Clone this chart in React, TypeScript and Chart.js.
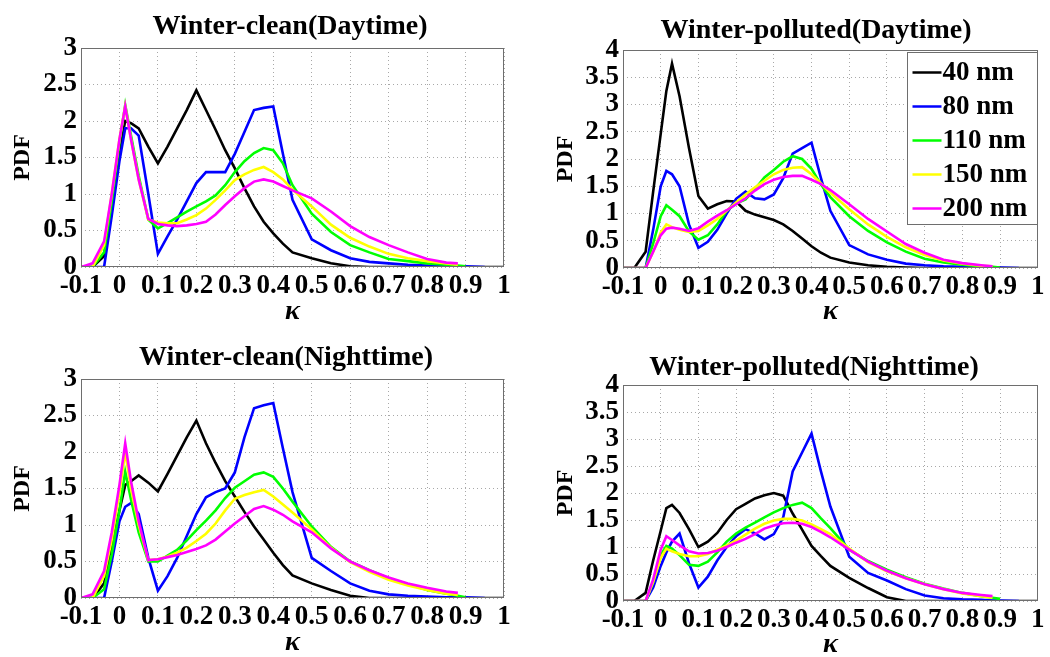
import React, { useEffect, useRef } from "react";
import { Chart, registerables } from "chart.js";

Chart.register(...registerables);

// ---------- data ----------
const KAPPA = [
  -0.1, -0.07, -0.04, -0.02, 0, 0.015,
  0.03, 0.05, 0.075, 0.1, 0.125, 0.15,
  0.175, 0.2, 0.225, 0.25, 0.275, 0.3,
  0.325, 0.35, 0.375, 0.4, 0.425, 0.45,
  0.5, 0.55, 0.6, 0.65, 0.7, 0.75,
  0.8, 0.85, 0.88, 0.9, 0.95, 1.0,
];

const X_TICKS = [-0.1, 0, 0.1, 0.2, 0.3, 0.4, 0.5, 0.6, 0.7, 0.8, 0.9, 1];
const Y_TICKS_CLEAN = [0, 0.5, 1, 1.5, 2, 2.5, 3];
const Y_TICKS_POLLUTED = [0, 0.5, 1, 1.5, 2, 2.5, 3, 3.5, 4];
const SIZES = ["40 nm", "80 nm", "110 nm", "150 nm", "200 nm"];
const COLORS = ["#000000", "#0000ff", "#00ff00", "#ffff00", "#ff00ff"];
const TITLES = [
  "Winter-clean(Daytime)",
  "Winter-polluted(Daytime)",
  "Winter-clean(Nighttime)",
  "Winter-polluted(Nighttime)",
];

// Winter-clean (Daytime)
const CLEAN_DAY_40 = [
  0, 0, 0.15, 0.9, 1.6, 2.0,
  1.97, 1.9, 1.65, 1.42, 1.65, 1.9,
  2.15, 2.42, 2.15, 1.88, 1.6, 1.35,
  1.08, 0.83, 0.62, 0.46, 0.32, 0.2,
  0.12, 0.05, 0.01, 0, 0, 0,
  0, 0, 0, 0, 0, 0,
];
const CLEAN_DAY_80 = [
  0, 0, 0, 0.7, 1.45, 1.9,
  1.9, 1.8, 1.0, 0.18, 0.42, 0.65,
  0.9, 1.15, 1.3, 1.3, 1.3, 1.55,
  1.85, 2.15, 2.18, 2.2, 1.55, 0.92,
  0.38, 0.23, 0.12, 0.07, 0.05, 0.03,
  0.02, 0.01, 0.01, 0.01, 0, null,
];
const CLEAN_DAY_110 = [
  0, 0, 0.2, 0.9, 1.7, 2.22,
  1.8, 1.25, 0.65, 0.53, 0.6, 0.68,
  0.76, 0.83, 0.9, 0.98, 1.12, 1.3,
  1.45, 1.56, 1.63, 1.6, 1.42, 1.12,
  0.73, 0.48, 0.3, 0.2, 0.11, 0.08,
  0.05, 0.03, 0.02, 0.01, null, null,
];
const CLEAN_DAY_150 = [
  0, 0, 0.3, 1.0, 1.75, 2.2,
  1.75, 1.2, 0.65, 0.61, 0.6, 0.6,
  0.65, 0.71, 0.8, 0.92, 1.05, 1.19,
  1.27, 1.33, 1.37, 1.3, 1.2, 1.06,
  0.83, 0.58, 0.4, 0.28, 0.18, 0.12,
  0.08, 0.05, 0.03, null, null, null,
];
const CLEAN_DAY_200 = [
  0, 0.05, 0.35, 1.0, 1.75, 2.2,
  1.75, 1.2, 0.66, 0.59, 0.57, 0.56,
  0.57, 0.59, 0.62, 0.72, 0.85, 0.97,
  1.08, 1.17, 1.2, 1.17, 1.11, 1.05,
  0.94, 0.76, 0.56, 0.41, 0.3, 0.2,
  0.11, 0.06, 0.05, null, null, null,
];

// Winter-polluted (Daytime)
const POLLUTED_DAY_40 = [
  0, 0, 0.3, 1.4, 2.46, 3.25,
  3.75, 3.15, 2.2, 1.32, 1.09, 1.17,
  1.23, 1.22, 1.05, 0.98, 0.93, 0.88,
  0.8, 0.68, 0.54, 0.4, 0.28, 0.19,
  0.1, 0.05, 0.02, 0.01, 0, 0,
  0, 0, 0, 0, 0, 0,
];
const POLLUTED_DAY_80 = [
  0, 0, 0, 0.7, 1.5, 1.78,
  1.72, 1.5, 0.8, 0.37, 0.48, 0.7,
  1.0, 1.27, 1.4, 1.28, 1.26, 1.35,
  1.65, 2.1, 2.2, 2.3, 1.65, 1.05,
  0.42, 0.25, 0.15, 0.08, 0.05, 0.03,
  0.02, 0.01, 0.01, 0.01, 0, null,
];
const POLLUTED_DAY_110 = [
  0, 0, 0, 0.45, 0.95, 1.15,
  1.07, 0.95, 0.67, 0.52, 0.6, 0.8,
  1.05, 1.18, 1.26, 1.45, 1.66, 1.8,
  1.95, 2.05, 2.0, 1.82, 1.53, 1.3,
  0.95, 0.68, 0.47, 0.3, 0.17, 0.1,
  0.06, 0.03, 0.02, 0.01, null, null,
];
const POLLUTED_DAY_150 = [
  0, 0, 0, 0.3, 0.65, 0.8,
  0.75, 0.7, 0.66, 0.68, 0.78, 0.9,
  1.05, 1.2, 1.35, 1.48, 1.6, 1.72,
  1.8, 1.84, 1.85, 1.72, 1.55, 1.38,
  1.08, 0.8, 0.57, 0.38, 0.24, 0.14,
  0.08, 0.04, 0.03, null, null, null,
];
const POLLUTED_DAY_200 = [
  0, 0, 0, 0.3, 0.6, 0.72,
  0.74, 0.72, 0.68, 0.73, 0.85, 0.96,
  1.06, 1.17, 1.28, 1.42, 1.54, 1.62,
  1.67, 1.69, 1.69, 1.62, 1.54, 1.43,
  1.17, 0.9, 0.67, 0.44, 0.28, 0.15,
  0.09, 0.05, 0.03, null, null, null,
];

// Winter-clean (Nighttime)
const CLEAN_NIGHT_40 = [
  0, 0, 0.2, 0.7, 1.2, 1.55,
  1.6, 1.68, 1.58, 1.46, 1.7, 1.95,
  2.2, 2.43, 2.12, 1.85, 1.6, 1.39,
  1.18, 0.98, 0.8, 0.62, 0.45, 0.31,
  0.2, 0.11, 0.03, 0, 0, 0,
  0, 0, 0, 0, 0, 0,
];
const CLEAN_NIGHT_80 = [
  0, 0, 0, 0.5, 1.05, 1.25,
  1.3, 1.15, 0.55, 0.1, 0.3, 0.55,
  0.85, 1.15, 1.38, 1.45, 1.5, 1.72,
  2.2, 2.6, 2.64, 2.67, 2.05, 1.45,
  0.55, 0.37, 0.2, 0.1, 0.05, 0.03,
  0.02, 0.01, 0.01, 0.01, 0, null,
];
const CLEAN_NIGHT_110 = [
  0, 0, 0.12, 0.6, 1.2, 1.73,
  1.35, 0.9, 0.5, 0.5, 0.58, 0.66,
  0.79, 0.93, 1.06, 1.2, 1.37, 1.51,
  1.6, 1.69, 1.72, 1.66, 1.5, 1.32,
  0.98, 0.7, 0.5, 0.38, 0.27, 0.19,
  0.11, 0.06, 0.03, 0.01, null, null,
];
const CLEAN_NIGHT_150 = [
  0, 0, 0.3, 0.8, 1.45, 2.0,
  1.5, 1.0, 0.52, 0.53, 0.57, 0.62,
  0.69, 0.78, 0.88, 1.02, 1.2, 1.36,
  1.41, 1.45, 1.48, 1.39, 1.28, 1.17,
  0.94, 0.69, 0.49, 0.36, 0.25, 0.17,
  0.11, 0.06, 0.04, null, null, null,
];
const CLEAN_NIGHT_200 = [
  0, 0.05, 0.37, 0.9, 1.55, 2.12,
  1.6, 1.05, 0.52, 0.53, 0.56, 0.59,
  0.63, 0.67, 0.72, 0.8, 0.91, 1.02,
  1.12, 1.22, 1.26, 1.21, 1.14, 1.05,
  0.9, 0.68, 0.5, 0.38, 0.28, 0.2,
  0.14, 0.09, 0.07, null, null, null,
];

// Winter-polluted (Nighttime)
const POLLUTED_NIGHT_40 = [
  0, 0, 0.15, 0.75, 1.3, 1.72,
  1.78, 1.63, 1.33, 1.0, 1.1, 1.26,
  1.5, 1.7, 1.8, 1.9, 1.96, 2.0,
  1.95, 1.62, 1.32, 1.02, 0.83, 0.65,
  0.43, 0.24, 0.07, 0, 0, 0,
  0, 0, 0, 0, 0, 0,
];
const POLLUTED_NIGHT_80 = [
  0, 0, 0, 0.25, 0.65, 0.9,
  1.1, 1.25, 0.7, 0.25, 0.45, 0.75,
  1.0, 1.2, 1.33, 1.25, 1.14, 1.24,
  1.55, 2.4, 2.75, 3.1, 2.4, 1.75,
  0.82, 0.52, 0.38, 0.22, 0.1, 0.05,
  0.03, 0.02, 0.01, 0.01, 0, null,
];
const POLLUTED_NIGHT_110 = [
  0, 0, 0, 0.35, 0.85, 1.02,
  0.97, 0.85, 0.67, 0.65, 0.73, 0.9,
  1.1, 1.25, 1.36, 1.45, 1.55, 1.64,
  1.72, 1.78, 1.82, 1.72, 1.53, 1.35,
  0.95, 0.74, 0.58, 0.44, 0.32, 0.23,
  0.15, 0.09, 0.06, 0.04, null, null,
];
const POLLUTED_NIGHT_150 = [
  0, 0, 0, 0.35, 0.8, 0.97,
  0.92, 0.87, 0.83, 0.83, 0.87, 0.95,
  1.03, 1.12, 1.23, 1.34, 1.43, 1.49,
  1.52, 1.52, 1.49, 1.42, 1.33, 1.24,
  0.97, 0.72, 0.55, 0.42, 0.31, 0.22,
  0.14, 0.09, 0.06, null, null, null,
];
const POLLUTED_NIGHT_200 = [
  0, 0, 0, 0.4, 0.95, 1.2,
  1.13, 1.03, 0.92, 0.88, 0.89, 0.93,
  1.0, 1.08, 1.15, 1.24, 1.34, 1.4,
  1.44, 1.45, 1.43, 1.37, 1.28, 1.18,
  0.95, 0.73, 0.56, 0.42, 0.31, 0.22,
  0.15, 0.11, 0.09, null, null, null,
];

// ---------- layout / style ----------
const FONT = '"Liberation Serif", "Times New Roman", serif';
const GRID_COLOR = "#a8a8a8";
const FRAME_COLOR = "#6e6e6e";

type PanelCfg = {
  title: string;
  series: (number | null)[][];
  yTicks: number[];
  legend: boolean;
  left: number; top: number; w: number; h: number;
  area: { L: number; T: number; R: number; B: number };
  titleX: number; titleY: number;
  pdfX: number;
  tickCenterY: number;
  kappaY: number;
};

const PANELS: PanelCfg[] = [
  {
    title: TITLES[0],
    series: [CLEAN_DAY_40, CLEAN_DAY_80, CLEAN_DAY_110, CLEAN_DAY_150, CLEAN_DAY_200],
    yTicks: Y_TICKS_CLEAN, legend: false,
    left: 0, top: 0, w: 525, h: 330,
    area: { L: 81, T: 48, R: 504, B: 267 },
    titleX: 290, titleY: 27, pdfX: 23, tickCenterY: 286, kappaY: 312,
  },
  {
    title: TITLES[1],
    series: [POLLUTED_DAY_40, POLLUTED_DAY_80, POLLUTED_DAY_110, POLLUTED_DAY_150, POLLUTED_DAY_200],
    yTicks: Y_TICKS_POLLUTED, legend: true,
    left: 525, top: 0, w: 525, h: 330,
    area: { L: 623, T: 50, R: 1041, B: 268 },
    titleX: 816, titleY: 31, pdfX: 566, tickCenterY: 287, kappaY: 312,
  },
  {
    title: TITLES[2],
    series: [CLEAN_NIGHT_40, CLEAN_NIGHT_80, CLEAN_NIGHT_110, CLEAN_NIGHT_150, CLEAN_NIGHT_200],
    yTicks: Y_TICKS_CLEAN, legend: false,
    left: 0, top: 330, w: 525, h: 327,
    area: { L: 81, T: 379, R: 504, B: 598 },
    titleX: 286, titleY: 358, pdfX: 23, tickCenterY: 617, kappaY: 643,
  },
  {
    title: TITLES[3],
    series: [POLLUTED_NIGHT_40, POLLUTED_NIGHT_80, POLLUTED_NIGHT_110, POLLUTED_NIGHT_150, POLLUTED_NIGHT_200],
    yTicks: Y_TICKS_POLLUTED, legend: false,
    left: 525, top: 330, w: 525, h: 327,
    area: { L: 623, T: 385, R: 1041, B: 601 },
    titleX: 814, titleY: 368, pdfX: 566, tickCenterY: 620, kappaY: 645,
  },
];

const TICK_SIZE = 27;
const KAPPA_SIZE = 28;
const KAPPA_LH = 0.8;
const PDF_SIZE = 24;

function fmt(v: number): string {
  const r = Math.round(v * 10) / 10;
  return String(r);
}

function Panel({ cfg }: { cfg: PanelCfg }) {
  const ref = useRef<HTMLCanvasElement>(null);

  useEffect(() => {
    const canvas = ref.current;
    if (!canvas) return;
    const { area } = cfg;
    const yAxisW = area.L - cfg.left;
    const padRight = cfg.left + cfg.w - area.R;
    const padTop = area.T - cfg.top;
    const xAxisH = cfg.top + cfg.h - area.B;
    const tickPad = cfg.tickCenterY - area.B - TICK_SIZE / 2;
    const kappaPad = cfg.top + cfg.h - cfg.kappaY - (KAPPA_SIZE * KAPPA_LH) / 2;
    const pdfPad = cfg.pdfX - cfg.left - PDF_SIZE / 2;
    const yMax = cfg.yTicks[cfg.yTicks.length - 1];

    const datasets = cfg.series.map((arr, i) => ({
      label: SIZES[i],
      data: KAPPA.map((x, j) => ({ x, y: arr[j] })),
      borderColor: COLORS[i],
      backgroundColor: COLORS[i],
      borderWidth: 2.6,
      pointRadius: 0,
      tension: 0,
      fill: false,
      spanGaps: false,
      order: SIZES.length - i,
    }));

    const framePlugin = {
      id: "frame",
      afterDatasetsDraw(chart: any) {
        const { ctx, chartArea: a } = chart;
        ctx.save();
        ctx.strokeStyle = FRAME_COLOR;
        ctx.lineWidth = 1;
        ctx.strokeRect(Math.round(a.left) + 0.5, Math.round(a.top) + 0.5,
          Math.round(a.right - a.left) - 1, Math.round(a.bottom - a.top) - 1);
        ctx.restore();
      },
    };

    const titlePlugin = {
      id: "panelTitle",
      afterDraw(chart: any) {
        const ctx = chart.ctx;
        ctx.save();
        ctx.font = `bold 28px ${FONT}`;
        ctx.fillStyle = "#000";
        ctx.textAlign = "center";
        ctx.textBaseline = "middle";
        ctx.fillText(cfg.title, cfg.titleX - cfg.left, cfg.titleY - cfg.top);
        ctx.restore();
      },
    };

    const legendPlugin = {
      id: "boxLegend",
      afterDraw(chart: any) {
        if (!cfg.legend) return;
        const { ctx, chartArea: a } = chart;
        const bw = 130;
        const bh = 172;
        const bx = Math.round(a.right) - bw - 0.5;
        const by = Math.round(a.top) + 2.5;
        ctx.save();
        ctx.fillStyle = "#ffffff";
        ctx.fillRect(bx, by, bw, bh);
        ctx.strokeStyle = FRAME_COLOR;
        ctx.lineWidth = 1;
        ctx.strokeRect(bx, by, bw, bh);
        ctx.font = `bold 27px ${FONT}`;
        ctx.textAlign = "left";
        ctx.textBaseline = "middle";
        chart.data.datasets.forEach((ds: any, i: number) => {
          const cy = by + 20 + i * 34;
          ctx.strokeStyle = ds.borderColor;
          ctx.lineWidth = 2.5;
          ctx.beginPath();
          ctx.moveTo(bx + 5, cy);
          ctx.lineTo(bx + 34, cy);
          ctx.stroke();
          ctx.fillStyle = "#000";
          ctx.fillText(ds.label, bx + 35, cy + 1);
        });
        ctx.restore();
      },
    };

    const chart = new Chart(canvas, {
      type: "line",
      data: { datasets } as any,
      options: {
        animation: false,
        responsive: false,
        devicePixelRatio: 1,
        events: [],
        layout: { padding: { left: 0, right: padRight, top: padTop, bottom: 0 } },
        plugins: {
          legend: { display: false },
          tooltip: { enabled: false },
          title: { display: false },
        },
        scales: {
          x: {
            type: "linear",
            min: -0.1,
            max: 1,
            afterBuildTicks: (s: any) => {
              s.ticks = X_TICKS.map((v) => ({ value: v }));
            },
            afterFit: (s: any) => {
              s.height = xAxisH;
            },
            ticks: {
              autoSkip: false,
              maxRotation: 0,
              minRotation: 0,
              padding: tickPad,
              color: "#000",
              font: { family: FONT, size: TICK_SIZE, weight: "bold", lineHeight: 1 },
              callback: (v: any) => fmt(Number(v)),
            },
            grid: { color: GRID_COLOR, drawTicks: false, lineWidth: 1 },
            border: { display: false, dash: [1, 3] },
            title: {
              display: true,
              text: "κ",
              color: "#000",
              font: { family: FONT, size: KAPPA_SIZE, style: "italic", weight: "bold", lineHeight: KAPPA_LH },
              padding: { top: 0, bottom: kappaPad },
            },
          },
          y: {
            type: "linear",
            min: 0,
            max: yMax,
            afterBuildTicks: (s: any) => {
              s.ticks = cfg.yTicks.map((v) => ({ value: v }));
            },
            afterFit: (s: any) => {
              s.width = yAxisW;
            },
            ticks: {
              autoSkip: false,
              padding: 4,
              color: "#000",
              font: { family: FONT, size: TICK_SIZE, weight: "bold", lineHeight: 1 },
              callback: (v: any) => fmt(Number(v)),
            },
            grid: { color: GRID_COLOR, drawTicks: false, lineWidth: 1 },
            border: { display: false, dash: [1, 3] },
            title: {
              display: true,
              text: "PDF",
              color: "#000",
              font: { family: FONT, size: PDF_SIZE, weight: "bold", lineHeight: 1 },
              padding: { top: pdfPad, bottom: 0 },
            },
          },
        },
      } as any,
      plugins: [framePlugin, titlePlugin, legendPlugin],
    });

    return () => chart.destroy();
  }, [cfg]);

  return (
    <canvas
      ref={ref}
      width={cfg.w}
      height={cfg.h}
      style={{ position: "absolute", left: cfg.left, top: cfg.top, width: cfg.w, height: cfg.h }}
    />
  );
}

export default function App() {
  return (
    <div
      style={{
        position: "absolute",
        left: 0,
        top: 0,
        width: 1050,
        height: 657,
        background: "#ffffff",
        overflow: "hidden",
      }}
    >
      {PANELS.map((p) => (
        <Panel key={p.title} cfg={p} />
      ))}
    </div>
  );
}
